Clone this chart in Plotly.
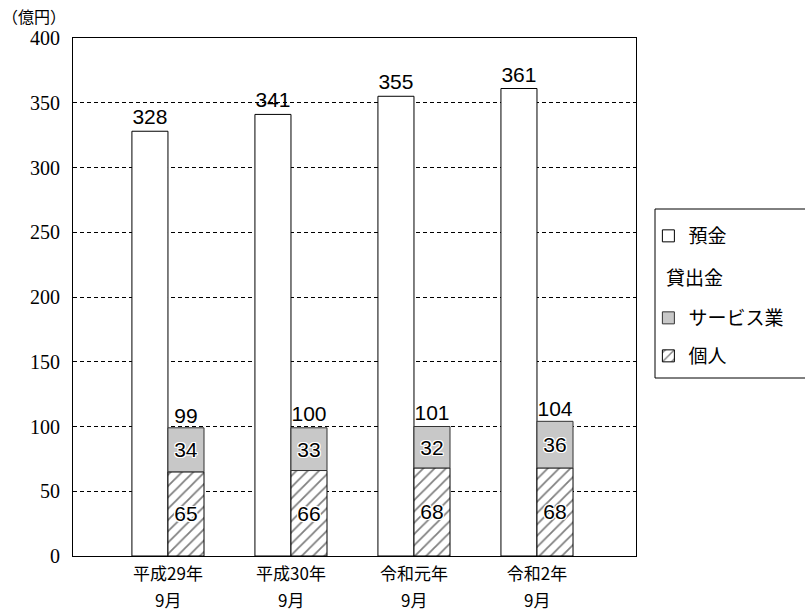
import plotly.graph_objects as go

# Values in 億円
period_year = ["平成29年", "平成30年", "令和元年", "令和2年"]
period_month = ["9月", "9月", "9月", "9月"]
deposits = [328, 341, 355, 361]
loans_service = [34, 33, 32, 36]
loans_personal = [65, 66, 68, 68]
loans_total = [99, 100, 101, 104]

xpos = list(range(len(period_year)))
W = 0.293

JP = "Noto Sans CJK JP"
NUM_SERIF = "Liberation Serif, DejaVu Serif, serif"
NUM_SANS = "Liberation Sans, Arial, sans-serif"
halo = ("-1px -1px 0 white, 1px -1px 0 white, -1px 1px 0 white, 1px 1px 0 white, "
        "0 -1px 0 white, 0 1px 0 white, -1px 0 0 white, 1px 0 0 white")

fig = go.Figure()

fig.add_trace(go.Bar(
    x=xpos, y=deposits, width=W, offset=-W,
    marker=dict(color="white", line=dict(color="black", width=1)),
    text=deposits, textposition="outside", cliponaxis=False,
    textfont=dict(family=NUM_SANS, size=21, color="black"),
    name="預金", legend="legend",
))

fig.add_trace(go.Bar(
    x=xpos, y=loans_personal, width=W, offset=0,
    marker=dict(color="white", line=dict(color="black", width=1),
                pattern=dict(shape="/", fgcolor="black", bgcolor="white",
                             size=8, solidity=0.22)),
    text=loans_personal, textposition="inside", insidetextanchor="middle",
    textangle=0, constraintext="none",
    textfont=dict(family=NUM_SANS, size=21, color="black", shadow=halo),
    name="個人", legend="legend3",
))

fig.add_trace(go.Bar(
    x=xpos, y=loans_service, base=loans_personal, width=W, offset=0,
    marker=dict(color="#c8c8c8", line=dict(color="#333333", width=1)),
    text=loans_service, textposition="inside", insidetextanchor="middle",
    textangle=0, constraintext="none",
    textfont=dict(family=NUM_SANS, size=21, color="black", shadow=halo),
    name="サービス業", legend="legend2",
))

# loan totals above the stacked bars
fig.add_trace(go.Scatter(
    x=[p + W / 2 for p in xpos], y=loans_total, mode="text",
    text=[str(v) for v in loans_total], textposition="top center",
    textfont=dict(family=NUM_SANS, size=21, color="black"),
    showlegend=False, cliponaxis=False, hoverinfo="skip",
))

legend_common = dict(
    bgcolor="rgba(0,0,0,0)", borderwidth=0, xanchor="left", yanchor="middle",
    font=dict(family=JP, size=19, color="black"), itemwidth=30,
    itemclick=False, itemdoubleclick=False,
)

# second line of each category label
month_notes = [
    dict(text=m, x=p, xref="x", y=0, yref="paper", yanchor="middle",
         yshift=-43, showarrow=False,
         font=dict(family=JP, size=17, color="black"))
    for p, m in zip(xpos, period_month)
]

fig.update_layout(
    width=805, height=611,
    margin=dict(l=73, r=169, t=38, b=55, autoexpand=False),
    paper_bgcolor="white", plot_bgcolor="white",
    barmode="overlay",
    showlegend=True,
    legend=dict(x=1.022, y=(556 - 236) / 518, **legend_common),
    legend2=dict(x=1.022, y=(556 - 318) / 518, **legend_common),
    legend3=dict(x=1.022, y=(556 - 356) / 518, **legend_common),
    xaxis=dict(
        range=[-0.772, 3.805], tickvals=xpos, ticktext=period_year,
        showgrid=False, zeroline=False, ticks="", automargin=False,
        showline=True, linecolor="black", linewidth=1, mirror=True,
        tickfont=dict(family=JP, size=17, color="black"),
        ticklabelstandoff=3,
    ),
    yaxis=dict(
        range=[0, 400], dtick=50, ticks="", automargin=False,
        showgrid=True, gridcolor="black", gridwidth=1, griddash="4px,3px",
        zeroline=False,
        showline=True, linecolor="black", linewidth=1, mirror=True,
        tickfont=dict(family=NUM_SERIF, size=20, color="black"),
        ticklabelstandoff=8,
    ),
    shapes=[dict(
        type="rect", xref="paper", yref="paper",
        x0=(655 - 73) / 563, x1=(806 - 73) / 563,
        y0=(556 - 378) / 518, y1=(556 - 209) / 518,
        line=dict(color="black", width=1), fillcolor="rgba(0,0,0,0)",
    )],
    annotations=[
        dict(text="（億円）", xref="paper", yref="paper",
             x=(0 - 73) / 563, y=(556 - 16) / 518,
             xanchor="left", yanchor="middle", showarrow=False,
             font=dict(family=JP, size=16, color="black")),
        dict(text="貸出金", xref="paper", yref="paper",
             x=(664 - 73) / 563, y=(556 - 276) / 518,
             xanchor="left", yanchor="middle", showarrow=False,
             font=dict(family=JP, size=19, color="black")),
    ] + month_notes,
)

fig.write_html("out.html")
